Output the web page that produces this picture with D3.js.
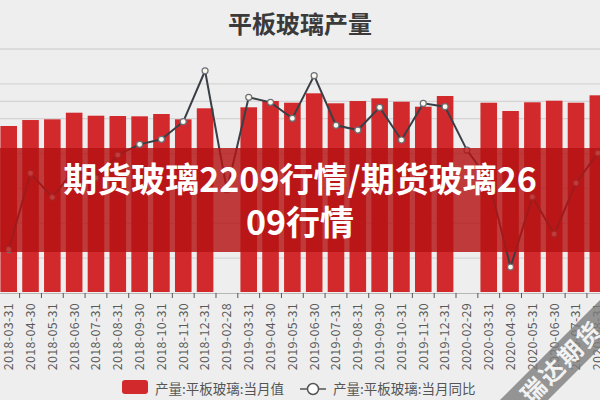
<!DOCTYPE html>
<html>
<head>
<meta charset="utf-8">
<script src="https://cdn.jsdelivr.net/npm/d3@7"></script>
<style>
  html,body{margin:0;padding:0;background:#eeeeee;}
  svg{display:block;}
  text{font-family:"Noto Sans CJK SC","Noto Sans",sans-serif;}
</style>
</head>
<body>
<svg id="chart" width="600" height="400"></svg>
<script>
const categories = ["2018-03-31","2018-04-30","2018-05-31","2018-06-30","2018-07-31","2018-08-31","2018-09-30","2018-10-31","2018-11-30","2018-12-31","2019-02-28","2019-03-31","2019-04-30","2019-05-31","2019-06-30","2019-07-31","2019-08-31","2019-09-30","2019-10-31","2019-11-30","2019-12-31","2020-02-29","2020-03-31","2020-04-30","2020-05-31","2020-06-30","2020-07-31","2020-08-31"];
// 产量:平板玻璃:当月值 (万重量箱)
const monthlyValue = [7833,7970,7986,8138,8069,8062,8055,8108,7986,8239,null,8262,8406,8367,8583,8354,8406,8468,8390,8276,8521,null,8367,8177,8377,8413,8367,8537];
// 产量:平板玻璃:当月同比 (%)
const yoyValue = [-3.5,0.87,-0.51,1.06,0.6,1.92,2.53,2.82,3.83,6.75,-0.09,5.23,4.94,4.02,6.47,3.62,3.35,4.65,2.78,4.88,4.69,2.2,0.48,-4.51,-0.49,-2.62,0.31,2.03];
const leftTicks = [4000,4800,5600,6400,7200,8000,8800,9600];
const rightTicks = [5];
const title = "平板玻璃产量";
const bannerLines = ["期货玻璃2209行情/期货玻璃26","09行情"];
const legendLabels = ["产量:平板玻璃:当月值","产量:平板玻璃:当月同比"];
const watermark = "瑞达期货";

const svg = d3.select("#chart");
const W = 600, H = 400;
const plotTop = 49, base = 293;

svg.append("rect").attr("width",W).attr("height",H).attr("fill","#eeeeee");

const x = d3.scaleBand().domain(categories).range([-2.21, 608.75]).paddingInner(0.24).paddingOuter(0.12);
const yL = d3.scaleLinear().domain([4000,9600]).range([base, plotTop]);
const yR = d3.scaleLinear().domain([-6,8]).range([base, plotTop]);

// gridlines
svg.append("g").selectAll("line").data(leftTicks.slice(1)).join("line")
  .attr("x1",0).attr("x2",W).attr("y1",d=>yL(d)).attr("y2",d=>yL(d))
  .attr("stroke",(d,i,a)=> i===a.length-1 ? "#c8c8c8" : "#d4d4d4").attr("stroke-width",1.2);
svg.append("g").selectAll("line").data(rightTicks).join("line")
  .attr("x1",0).attr("x2",W).attr("y1",d=>yR(d)).attr("y2",d=>yR(d))
  .attr("stroke","#d4d4d4").attr("stroke-width",1.2);

// title
svg.append("text").attr("x",300).attr("y",33).attr("text-anchor","middle")
  .attr("font-size",24).attr("font-weight",700).attr("fill","#3a3a3a").text(title);

// bars
svg.append("g").selectAll("rect").data(categories.map((c,i)=>({c,v:monthlyValue[i]})).filter(d=>d.v!=null)).join("rect")
  .attr("x",d=>x(d.c)).attr("width",x.bandwidth())
  .attr("y",d=>yL(d.v)).attr("height",d=>base-1-yL(d.v))
  .attr("fill","#d22a2c");

// x axis
const ax = svg.append("g").attr("transform",`translate(0,${base})`)
  .call(d3.axisBottom(x).tickSize(0).tickSizeOuter(0));
ax.select(".domain").attr("stroke","#b8b8b8");
ax.selectAll("text").attr("transform","rotate(-90)").attr("x",-10).attr("y",0).attr("dy","0.35em")
  .attr("text-anchor","end").attr("font-size",12.5).attr("fill","#5a5a5a")
  .attr("font-family","'DejaVu Sans','Noto Sans',sans-serif").attr("letter-spacing","0.3px");
const step = x.step();
svg.append("g").selectAll("line").data(categories).join("line")
  .attr("x1",d=>x(d)-step*0.12).attr("x2",d=>x(d)-step*0.12)
  .attr("y1",base).attr("y2",base+5).attr("stroke","#555").attr("stroke-width",1);

// line
const pts = categories.map((c,i)=>({c,v:yoyValue[i]}));
const line = d3.line().x(d=>x(d.c)+x.bandwidth()/2).y(d=>yR(d.v));
svg.append("path").datum(pts).attr("d",line).attr("fill","none")
  .attr("stroke","#3a3f46").attr("stroke-width",2);
svg.append("g").selectAll("circle").data(pts).join("circle")
  .attr("cx",d=>x(d.c)+x.bandwidth()/2).attr("cy",d=>yR(d.v)).attr("r",3)
  .attr("fill","#fbf8ee").attr("stroke","#6a6f76").attr("stroke-width",1.2);

// banner
svg.append("rect").attr("x",0).attr("y",148).attr("width",W).attr("height",104)
  .attr("fill","rgb(180,18,18)").attr("fill-opacity",0.82);
svg.append("g").selectAll("text").data(bannerLines).join("text")
  .attr("x",300).attr("y",(d,i)=>192+i*43).attr("text-anchor","middle")
  .attr("font-size",34).attr("font-weight",700).attr("fill","#fff").text(d=>d);

// legend
const lg = svg.append("g");
lg.append("rect").attr("x",122).attr("y",380).attr("width",26).attr("height",14).attr("rx",3).attr("fill","#d22a2c");
lg.append("text").attr("x",155).attr("y",389).attr("dy","0.35em").attr("font-size",13.5).attr("fill","#555").text(legendLabels[0]);
lg.append("line").attr("x1",300).attr("x2",326).attr("y1",389).attr("y2",389).attr("stroke","#555").attr("stroke-width",1.5);
lg.append("circle").attr("cx",313).attr("cy",389).attr("r",5.5).attr("fill","#fff").attr("stroke","#555").attr("stroke-width",1.5);
lg.append("text").attr("x",333).attr("y",389).attr("dy","0.35em").attr("font-size",13.5).attr("fill","#555").text(legendLabels[1]);

// watermark
const wm = svg.append("g").attr("transform","translate(562,362) rotate(-45)");
wm.append("rect").attr("x",-80).attr("y",-17).attr("width",160).attr("height",34).attr("fill","#7d7d7d").attr("fill-opacity",0.8);
wm.append("text").attr("x",0).attr("y",0).attr("dy","0.36em").attr("text-anchor","middle")
  .attr("font-size",24).attr("font-weight",700).attr("fill","#f2f2f2").attr("letter-spacing","2px").text(watermark);
</script>
</body>
</html>
